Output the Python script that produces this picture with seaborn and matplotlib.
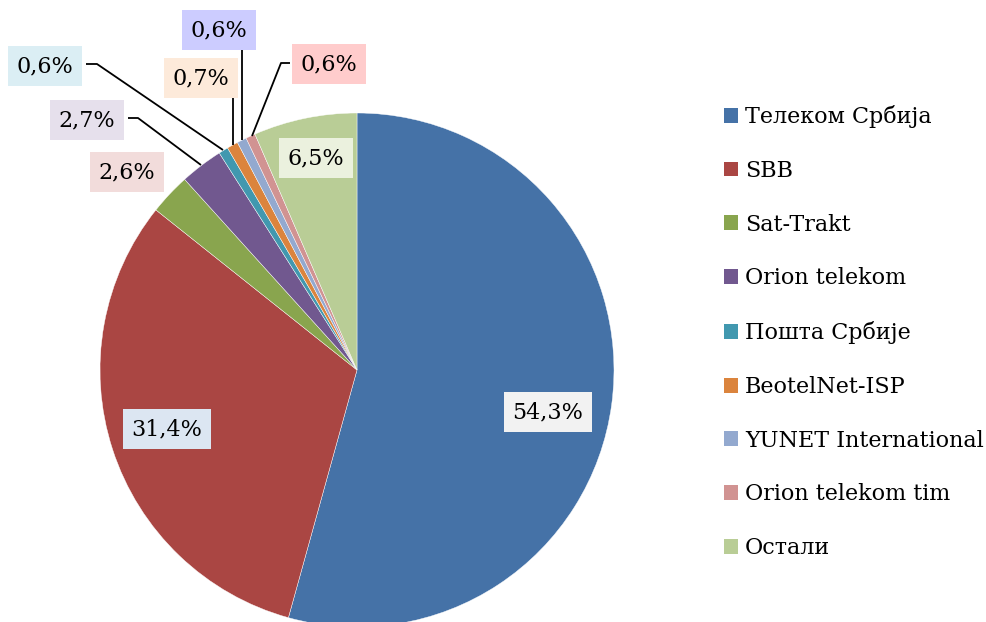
import matplotlib
matplotlib.use("Agg")
import matplotlib.pyplot as plt
import seaborn as sns
from matplotlib.patches import Patch

sns.set_style("white")
plt.rcParams['font.family'] = ['DejaVu Serif']

categories = ["Телеком Србија", "SBB", "Sat-Trakt", "Orion telekom", "Пошта Србије",
              "BeotelNet-ISP", "YUNET International", "Orion telekom tim", "Остали"]
values = [54.3, 31.4, 2.6, 2.7, 0.6, 0.7, 0.6, 0.6, 6.5]
labels = ["54,3%", "31,4%", "2,6%", "2,7%", "0,6%", "0,7%", "0,6%", "0,6%", "6,5%"]

colors = ["#4572A7", "#AA4643", "#89A54E", "#71588F", "#4198AF",
          "#DB843D", "#93A9CF", "#D19392", "#B9CD96"]
box_colors = ["#F2F2F2", "#DCE6F2", "#F2DCDB", "#E6E0EC", "#DBEEF4",
              "#FDEADA", "#CCCCFF", "#FFCCCC", "#EBF1DE"]

W, H = 986, 622
fig = plt.figure(figsize=(W / 100, H / 100), dpi=100)
ax = fig.add_axes([0, 0, 1, 1])

cx, cy, r = 357, H - 370, 257
wedges, _ = ax.pie(values, colors=colors, startangle=90, counterclock=False,
                   center=(cx, cy), radius=r, frame=True,
                   wedgeprops=dict(edgecolor="white", linewidth=0.3))
ax.set_xlim(0, W)
ax.set_ylim(0, H)
ax.axis("off")

# label centres (pixel coords from top) and leader lines
label_pos = [(548, 412), (167, 429), (127, 172), (87, 120), (45, 66),
             (201, 78), (219, 30), (329, 64), (316, 158)]
leaders = {
    3: [(128, 118), (138, 118), (201, 165)],
    4: [(86, 64), (97, 64), (223, 150)],
    5: [(233, 98), (233, 145)],
    6: [(242, 50), (242, 140)],
    7: [(290, 63), (281, 63), (252, 136)],
}
for i, pts in leaders.items():
    ax.plot([p[0] for p in pts], [H - p[1] for p in pts], color="black", lw=1.3,
            solid_capstyle="butt")

for i, (x, y) in enumerate(label_pos):
    ax.text(x, H - y, labels[i], ha="center", va="center", fontsize=16,
            color="black",
            bbox=dict(boxstyle="square,pad=0.4", facecolor=box_colors[i], edgecolor="none"))

handles = [Patch(facecolor=c, edgecolor="none") for c in colors]
leg = ax.legend(handles, categories, loc="upper left",
                bbox_to_anchor=(724 / W, 1 - 105 / H), frameon=False,
                fontsize=16, handlelength=0.65, handleheight=0.65,
                handletextpad=0.3, labelspacing=1.43, borderpad=0, borderaxespad=0,
                labelcolor="black")

fig.savefig("out.png", dpi=100)
